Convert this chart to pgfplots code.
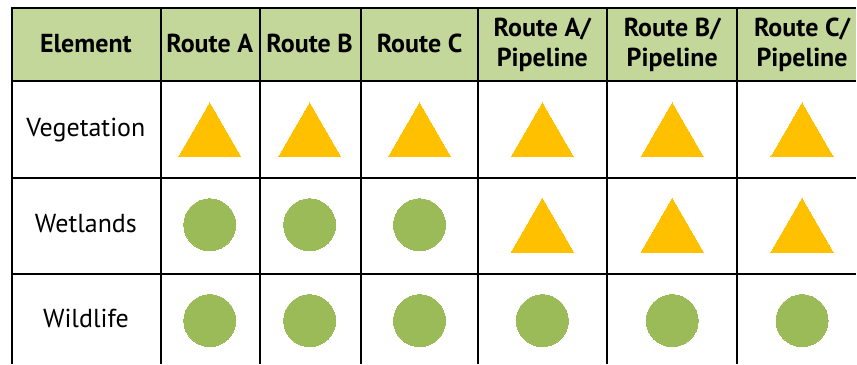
\documentclass[border=0pt]{standalone}
\usepackage{pgfplots}
\pgfplotsset{compat=1.18}
\usepackage{fontspec}
\setmainfont{PT Sans}
\definecolor{hdr}{HTML}{C4D79B}
\definecolor{tri}{HTML}{FFC000}
\definecolor{circ}{HTML}{9BBB59}
\begin{document}
\begin{tikzpicture}
\begin{axis}[
  scale only axis, width=857pt, height=364pt,
  xmin=0, xmax=857, ymin=0, ymax=364, y dir=reverse,
  hide axis, clip=false,
]
% background and header
\fill[white] (axis cs:0,0) rectangle (axis cs:857,364);
\fill[hdr] (axis cs:12,8) rectangle (axis cs:857,81);
% grid lines
\pgfplotsinvokeforeach{12,161,260,361,479,608,738}{
  \draw[line width=2pt] (axis cs:#1,8) -- (axis cs:#1,364);
}
\pgfplotsinvokeforeach{8,81,178,274}{
  \draw[line width=2pt] (axis cs:11,#1) -- (axis cs:857,#1);
}
% header text
\tikzset{h/.style={anchor=base, font=\fontsize{26}{30}\selectfont\bfseries},
         r/.style={anchor=base, font=\fontsize{26}{30}\selectfont}}
\node[h] at (axis cs:86,53) {Element};
\node[h] at (axis cs:210,53) {Route A};
\node[h] at (axis cs:310,53) {Route B};
\node[h] at (axis cs:420,53) {Route C};
\node[h] at (axis cs:543,37) {Route A/};
\node[h] at (axis cs:543,67) {Pipeline};
\node[h] at (axis cs:673,37) {Route B/};
\node[h] at (axis cs:673,67) {Pipeline};
\node[h] at (axis cs:803,37) {Route C/};
\node[h] at (axis cs:803,67) {Pipeline};
% row labels
\node[r] at (axis cs:86,137) {Vegetation};
\node[r] at (axis cs:86,233) {Wetlands};
\node[r] at (axis cs:86,328) {Wildlife};
% triangles
\addplot[only marks, color=tri, mark=triangle*, mark size=36pt, mark options={fill=tri, draw=tri, line width=0pt}]
  coordinates {(210,139) (310,139) (420,139) (543,139) (673,139) (803,139)
               (543,234.5) (673,234.5) (803,234.5)};
% circles
\addplot[only marks, color=circ, mark=*, mark size=26pt, mark options={fill=circ, draw=circ, line width=0pt}]
  coordinates {(210,225) (310,225) (420,225)
               (210,321) (310,321) (420,321) (543,321) (673,321) (803,321)};
\end{axis}
\end{tikzpicture}
\end{document}
